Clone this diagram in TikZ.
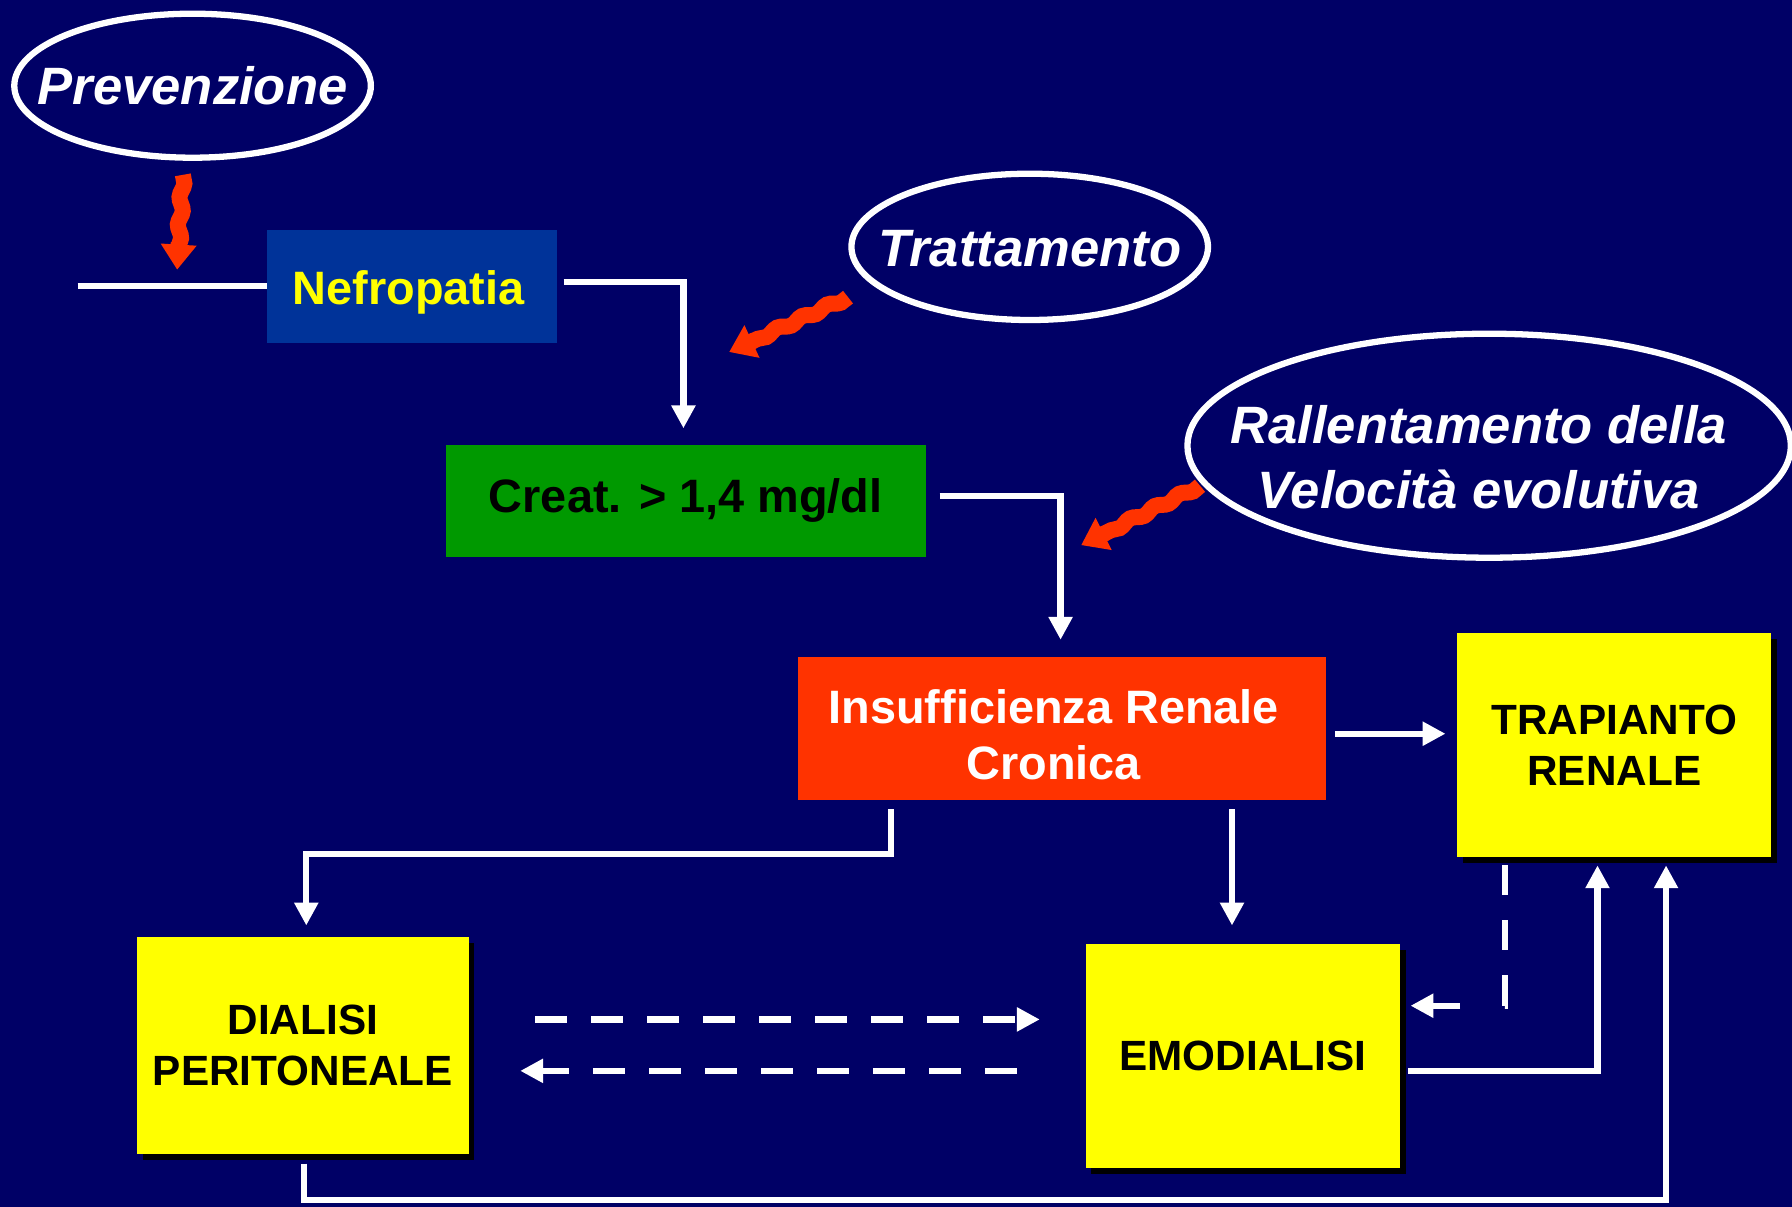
\documentclass[tikz,border=0pt]{standalone}
\usepackage{fontspec}
\setmainfont{Liberation Sans}
\usetikzlibrary{arrows.meta,shapes.geometric,calc,decorations.pathmorphing,shadows}
\definecolor{bg}{RGB}{0,0,102}
\definecolor{nefblue}{RGB}{0,51,153}
\definecolor{greenbox}{RGB}{0,153,0}
\definecolor{redbox}{RGB}{255,51,0}
\definecolor{ybox}{RGB}{255,255,0}
\begin{document}
\begin{tikzpicture}[x=1pt,y=-1pt,
  box/.style={rectangle, inner sep=0pt, align=center},
  bigtxt/.style={font=\bfseries\fontsize{41}{49}\selectfont},
  boxtxt/.style={bigtxt, align=center, inner sep=0pt},
  yellowbox/.style={box, fill=ybox, text=black, minimum width=275pt, minimum height=196pt,
     font=\bfseries\fontsize{37}{45}\selectfont,
     drop shadow={shadow xshift=5pt, shadow yshift=-5pt, fill=black, opacity=1}},
  oval/.style={ellipse, draw=white, line width=5.5pt, inner sep=0pt},
  ovaltxt/.style={text=white, align=center, inner sep=0pt,
     font=\bfseries\itshape\fontsize{46}{57}\selectfont},
  plainline/.style={draw=white, line width=5.5pt},
  conn/.style={plainline, -{Triangle[length=20pt,width=20pt]}},
  dashconn/.style={conn, dash pattern=on 28pt off 21pt},
  wave/.style={draw=redbox, line width=14pt, decorate,
     decoration={snake, segment length=24pt, amplitude=1.8pt}},
  wavehead/.style={draw=redbox, line width=14pt, -{Triangle[length=22pt,width=30pt]}}
]
\fill[bg] (0,0) rectangle (1568,1056);
\useasboundingbox (0,0) rectangle (1568,1056);

% ellipses
\node[oval, minimum width=312pt, minimum height=126pt,
  label={[ovaltxt]center:Prevenzione}] (prev) at (168.5,75) {};
\node[oval, minimum width=312pt, minimum height=128pt,
  label={[ovaltxt, yshift=-2pt]center:Trattamento}] (tratt) at (901,216) {};
\node[oval, minimum width=528pt, minimum height=196pt,
  label={[ovaltxt, xshift=-9pt, yshift=-10pt]center:Rallentamento della\\Velocità evolutiva}] (rall) at (1303,390) {};

% boxes
\node[box, fill=nefblue, minimum width=253pt, minimum height=99pt,
  label={[boxtxt, text=ybox, xshift=-3pt, yshift=-5pt]center:Nefropatia}] (nef) at (360.5,250.5) {};
\node[box, fill=greenbox, text=black, bigtxt, minimum width=420pt, minimum height=98pt] (creat) at (600,438) {Creat. > 1,4 mg/dl};
\node[box, fill=redbox, minimum width=462pt, minimum height=125pt,
  label={[boxtxt, text=white, xshift=-7pt, yshift=-5pt]center:Insufficienza Renale\\Cronica}] (insuff) at (929,637.5) {};
\node[yellowbox] (trap) at (1412.5,652) {TRAPIANTO\\RENALE};
\node[yellowbox, minimum width=290pt, minimum height=190pt] (dial) at (265,915) {DIALISI\\PERITONEALE};
\node[yellowbox] (emo) at (1087.5,924) {EMODIALISI};

% connectors
\coordinate (lstart) at (68,250);
\draw[plainline] (lstart) -- (lstart -| nef.west);
\draw[conn] ($(nef.east)+(6,-4)$) -| ($(creat.north)+(-2,-14)$);
\draw[conn] ($(creat.east)+(12,-4)$) -| ($(insuff.north)+(-1,-15)$);
\draw[conn] ($(insuff.east)+(8,4.5)$) -- ($(trap.west |- insuff.east)+(-10,4.5)$);
\draw[conn] ($(insuff.south west)+(82,8)$) -- ++(0,39) -| ($(dial.north)+(3,-10)$);
\draw[conn] ($(insuff.south)+(149,8)$) -- ($(emo.north)+(-9.5,-16)$);
\draw[dashconn] ($(dial.east)+(58,-23)$) -- ($(emo.west)+(-40,-32)$);
\draw[dashconn] ($(emo.west)+(-60,13)$) -- ($(dial.east)+(45,22)$);
\draw[conn, dash pattern=on 26pt off 22pt on 26pt off 22pt on 27pt off 39pt on 200pt]
  ($(trap.south west)+(42,7)$) |- ($(emo.east)+(9,-44)$);
\draw[conn] ($(emo.east)+(7,13)$) -| ($(trap.south west)+(123,7)$);
\draw[conn] ($(dial.south)+(1,8)$) -- ++(0,32) -| ($(trap.south west)+(183,7)$);

% red wavy arrows
\coordinate (w1a) at (160,153);
\coordinate (w1b) at (155,236);
\coordinate (w2a) at (742,260);
\coordinate (w2b) at (638,308);
\coordinate (w3a) at (1050,425);
\coordinate (w3b) at (946,477);
\foreach \a/\b in {w1a/w1b, w2a/w2b, w3a/w3b}{
  \draw[wave] (\a) -- ($(\b)!20pt!(\a)$);
  \draw[wavehead] ($(\b)!24pt!(\a)$) -- (\b);
}
\end{tikzpicture}
\end{document}
